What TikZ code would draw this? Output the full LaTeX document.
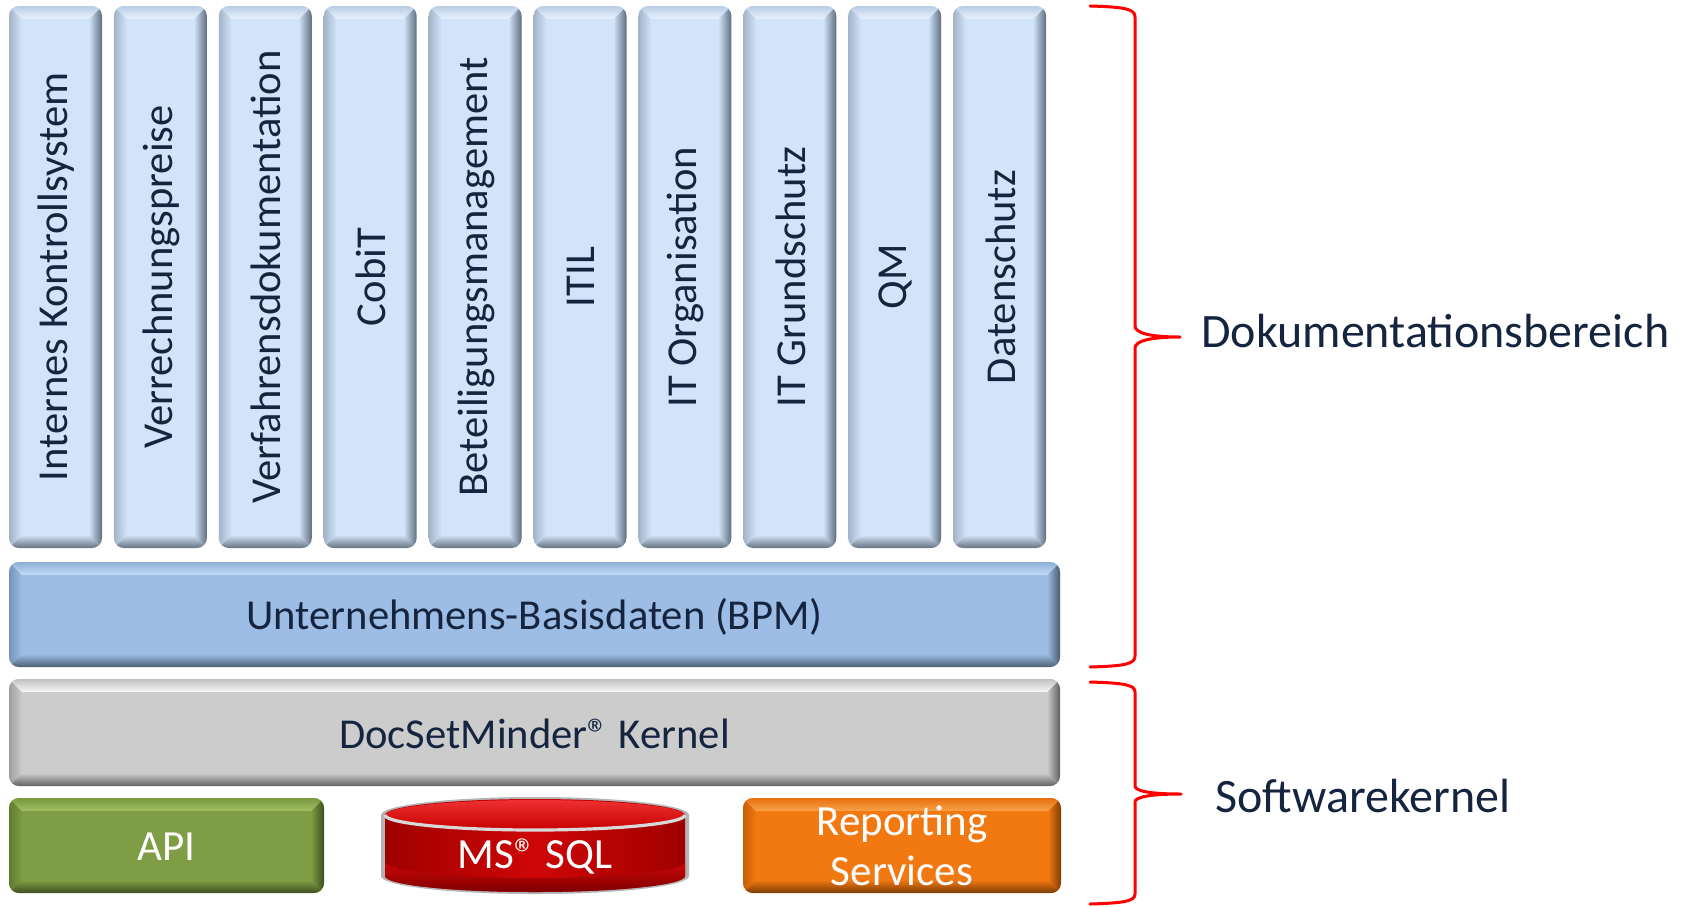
\documentclass[tikz,border=0pt]{standalone}
\usepackage{fontspec}
\setmainfont{Carlito}
\definecolor{txt}{HTML}{15253F}
% columns
\definecolor{colF}{HTML}{D2E4FA}
\definecolor{colL}{HTML}{A3B4C9}
\definecolor{colR}{HTML}{5F6D7D}
\definecolor{colT}{HTML}{B9CDE5}
\definecolor{colH}{HTML}{E8F2FF}
\definecolor{colB}{HTML}{65717F}
% BPM
\definecolor{bpmF}{HTML}{9DBDE4}
\definecolor{bpmL}{HTML}{7594BC}
\definecolor{bpmR}{HTML}{4A5A6E}
\definecolor{bpmT}{HTML}{8FAFD6}
\definecolor{bpmH}{HTML}{C2DCF8}
\definecolor{bpmB}{HTML}{4D5E73}
% Kernel
\definecolor{kerF}{HTML}{CCCCCC}
\definecolor{kerL}{HTML}{9E9E9E}
\definecolor{kerR}{HTML}{5E5E5E}
\definecolor{kerT}{HTML}{C0C0C0}
\definecolor{kerH}{HTML}{F8F8F8}
\definecolor{kerB}{HTML}{606060}
% API
\definecolor{apiF}{HTML}{7F9D44}
\definecolor{apiL}{HTML}{5F7A2E}
\definecolor{apiR}{HTML}{3E4F1D}
\definecolor{apiT}{HTML}{7A9840}
\definecolor{apiH}{HTML}{A2C062}
\definecolor{apiB}{HTML}{3F5020}
% Reporting
\definecolor{repF}{HTML}{F27812}
\definecolor{repL}{HTML}{C55F08}
\definecolor{repR}{HTML}{7E3E05}
\definecolor{repT}{HTML}{E77010}
\definecolor{repH}{HTML}{F9A24A}
\definecolor{repB}{HTML}{7A3C05}
% SQL
\definecolor{sqlRim}{HTML}{B4B4B4}
\definecolor{sqlRimL}{HTML}{D8D8D8}
\definecolor{sqlF}{HTML}{CE0606}
\definecolor{sqlD}{HTML}{A00000}
\definecolor{sqlB}{HTML}{7E0000}
\definecolor{sqlT}{HTML}{EE3030}
\definecolor{sqlU}{HTML}{C80000}
\definecolor{braceRed}{HTML}{FF0000}

\newcommand\bevelbox[5]{%
\begin{scope}
\clip[rounded corners=5pt] (#1,#2) rectangle (#3,#4);
\fill[#5F] (#1,#2) rectangle (#3,#4);
\shade[left color=#5L, right color=#5F] (#1,#2) -- ({#1+13},{#2+13}) -- ({#1+13},{#4-13}) -- (#1,#4) -- cycle;
\shade[left color=#5F, right color=#5R] (#3,#2) -- ({#3-13},{#2+13}) -- ({#3-13},{#4-13}) -- (#3,#4) -- cycle;
\shade[top color=#5T, bottom color=#5H] (#1,#2) -- (#3,#2) -- ({#3-13},{#2+13}) -- ({#1+13},{#2+13}) -- cycle;
\shade[top color=#5F, bottom color=#5B] (#1,#4) -- (#3,#4) -- ({#3-13},{#4-13}) -- ({#1+13},{#4-13}) -- cycle;
\fill[#5F, rounded corners=2pt] ({#1+13},{#2+13}) rectangle ({#3-13},{#4-13});
\end{scope}}

\begin{document}
\begin{tikzpicture}[x=0.5pt, y=-0.5pt,
  lbl/.style={text=txt, inner sep=0pt, font=\fontsize{21.3}{25}\selectfont},
  barlbl/.style={text=txt, inner sep=0pt, font=\fontsize{21.3}{26}\selectfont},
  whitelbl/.style={text=white, inner sep=0pt, font=\fontsize{21.5}{25}\selectfont},
  side/.style={text=txt, inner sep=0pt, font=\fontsize{24}{28}\selectfont},
  brace/.style={draw=braceRed, line width=1.5pt, line cap=round, line join=round}]
\useasboundingbox (0,0) rectangle (1684,906);

% columns
\foreach \t [count=\i from 0] in {Internes Kontrollsystem, Verrechnungspreise, Verfahrensdokumentation, CobiT, Beteiligungsmanagement, ITIL, IT Organisation, IT Grundschutz, QM, Datenschutz} {
  \pgfmathsetmacro\xa{9+104.9*\i}
  \pgfmathsetmacro\xb{\xa+93}
  \bevelbox{\xa}{6}{\xb}{548}{col}
  \node[lbl, rotate=90] (col\i) at ({(\xa+\xb)/2+1},277) {\t};
}

% BPM bar
\bevelbox{9}{562}{1060}{667}{bpm}
\node[barlbl, anchor=base] (bpm) at (534.5,629) {Unternehmens-Basisdaten (BPM)};

% Kernel bar
\bevelbox{9}{679}{1060}{786}{ker}
\node[barlbl, anchor=base] (kernel) at (534.5,748) {DocSetMinder® Kernel};

% API
\bevelbox{9}{798}{324}{893}{api}
\node[whitelbl, anchor=base] (api) at (166.5,860) {API};

% Reporting
\bevelbox{743}{798}{1061}{893}{rep}
\node[whitelbl, anchor=base] (rep1) at (902,835) {Reporting};
\node[whitelbl, anchor=base] (rep2) at (902,885) {Services};

% MS SQL cylinder
\fill[sqlRim] (381,815) arc[start angle=180, end angle=360, x radius=154, y radius=18]
  -- (689,876) arc[start angle=0, end angle=180, x radius=154, y radius=18] -- cycle;
\shade[left color=sqlD, right color=sqlD, middle color=sqlF]
  (385,815) arc[start angle=180, end angle=360, x radius=150, y radius=16]
  -- (685,876) arc[start angle=0, end angle=180, x radius=150, y radius=16] -- cycle;
\shade[top color=sqlF, bottom color=sqlB]
  (385,862) -- (385,876) arc[start angle=180, end angle=0, x radius=150, y radius=16]
  -- (685,862) arc[start angle=0, end angle=180, x radius=150, y radius=16] -- cycle;
\shade[top color=sqlT, bottom color=sqlU] (535,815) ellipse[x radius=150, y radius=15];
\draw[sqlRimL, line width=1.6pt] (385,815) arc[start angle=180, end angle=0, x radius=150, y radius=15];
\node[whitelbl, anchor=base] (sql) at (535,868) {MS® SQL};

% braces
\draw[brace] (1090,6) .. controls (1125,7) and (1135,9) .. (1135,17) -- (1135,326)
  .. controls (1135,333) and (1150,337) .. (1180,337)
  .. controls (1150,337) and (1135,341) .. (1135,348) -- (1135,656)
  .. controls (1135,664) and (1125,666) .. (1090,667);
\draw[brace] (1090,682) .. controls (1125,683) and (1135,685) .. (1135,692) -- (1135,786)
  .. controls (1135,791) and (1150,794) .. (1181,794)
  .. controls (1150,794) and (1135,797) .. (1135,802) -- (1135,894)
  .. controls (1135,901) and (1125,903) .. (1090,904);

\node[side, anchor=base west] (dok) at (1201,347) {Dokumentationsbereich};
\node[side, anchor=base west] (soft) at (1215,812) {Softwarekernel};
\end{tikzpicture}
\end{document}
